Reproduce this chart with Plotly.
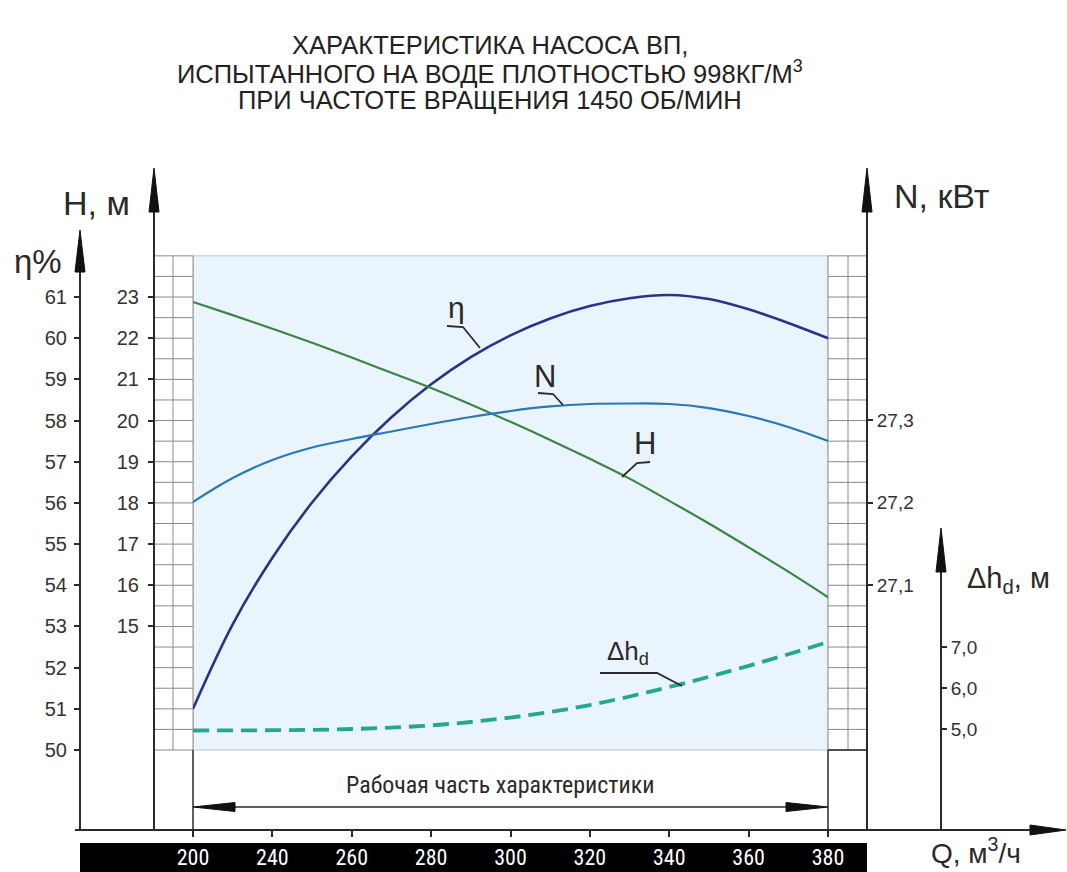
import plotly.graph_objects as go

# ---- data -------------------------------------------------------------
# flow points along the working part (labelled ticks plus midpoints between them)
Q_POINTS = ["200", "220", "240", "250", "260", "270", "280", "290", "300",
            "310", "320", "330", "340", "350", "360", "370", "380"]
Q_TICKS = ["200", "240", "260", "280", "300", "320", "340", "360", "380"]

ETA = [51.0, 53.05, 54.67, 56.01, 57.13, 58.08, 58.88, 59.54, 60.07,
       60.48, 60.78, 60.97, 61.05, 60.95, 60.70, 60.37, 60.0]              # η, %
HEAD = [22.88, 22.56, 22.23, 21.89, 21.53, 21.16, 20.79, 20.39, 19.97,
        19.53, 19.07, 18.59, 18.05, 17.50, 16.92, 16.33, 15.71]             # H, м
POWER = [27.2006, 27.2297, 27.2515, 27.2667, 27.2770, 27.2861, 27.2952, 27.3036,
         27.3109, 27.3164, 27.3194, 27.3200, 27.3194, 27.3145, 27.3048, 27.2915,
         27.2745]                                                            # N, кВт
NPSH = [4.963, 4.966, 4.971, 4.980, 5.000, 5.034, 5.088, 5.171, 5.280,
        5.415, 5.585, 5.793, 6.024, 6.273, 6.541, 6.824, 7.122]             # Δh_d, м

ETA_TICKS = [50, 51, 52, 53, 54, 55, 56, 57, 58, 59, 60, 61]
H_TICKS = [15, 16, 17, 18, 19, 20, 21, 22, 23]
H_MINOR_TICKS = [12, 13, 14]
N_TICKS = [27.1, 27.2, 27.3]
N_TICKTEXT = ["27,1", "27,2", "27,3"]
DH_TICKS = [5, 6, 7]
DH_TICKTEXT = ["5,0", "6,0", "7,0"]

TITLE_LINES = ["ХАРАКТЕРИСТИКА НАСОСА ВП,",
               "ИСПЫТАННОГО НА ВОДЕ ПЛОТНОСТЬЮ 998КГ/М<sup>3</sup>",
               "ПРИ ЧАСТОТЕ ВРАЩЕНИЯ 1450 ОБ/МИН"]

W, H = 1067, 872
SANS = "Liberation Sans, Arial, Helvetica, sans-serif"
NARROW = "Liberation Sans Narrow, Arial Narrow, Roboto Condensed, Liberation Sans, sans-serif"
DARK = "#2a2a2a"


def fx(p):
    return p / W


def fy(p):
    return 1 - p / H


# common vertical domain for all value axes (baseline to top arrow)
DOMAIN = [fy(830), fy(170)]
PX_PER_ETA = 41.18
ETA_RANGE = [50 - 80 / PX_PER_ETA, 50 + 580 / PX_PER_ETA]
H_RANGE = [ETA_RANGE[0] - 38, ETA_RANGE[1] - 38]
N_RANGE = [27.3 + (420 - 830) / 825, 27.3 + (420 - 170) / 825]
DH_RANGE = [5 + (729 - 830) / 41, 5 + (729 - 170) / 41]

fig = go.Figure()

fig.add_trace(go.Scatter(x=Q_POINTS, y=ETA, mode="lines", yaxis="y",
                         line=dict(color="#2b3388", width=2.6, shape="spline")))
fig.add_trace(go.Scatter(x=Q_POINTS, y=POWER, mode="lines", yaxis="y3",
                         line=dict(color="#2b78b4", width=2.2, shape="spline")))
fig.add_trace(go.Scatter(x=Q_POINTS, y=HEAD, mode="lines", yaxis="y2",
                         line=dict(color="#3b8544", width=2.2, shape="spline")))
fig.add_trace(go.Scatter(x=Q_POINTS, y=NPSH, mode="lines", yaxis="y4",
                         line=dict(color="#25a693", width=3.8, shape="spline",
                                   dash="16px,8px")))

shapes = []

# shaded working field
shapes.append(dict(type="rect", xref="paper", yref="y", x0=fx(193), x1=fx(828),
                   y0=50, y1=62, fillcolor="#eaf4fd",
                   line=dict(color="#bfc6cc", width=1), layer="below"))

# grid strips on both sides
for (xa, xb, xm) in [(154, 193, 173), (828, 867, 848)]:
    shapes.append(dict(type="rect", xref="paper", yref="y", x0=fx(xa), x1=fx(xb),
                       y0=50, y1=62, fillcolor="white",
                       line=dict(color="#8a8a8a", width=1), layer="below"))
    shapes.append(dict(type="line", xref="paper", yref="y", x0=fx(xm), x1=fx(xm),
                       y0=50, y1=62, line=dict(color="#8a8a8a", width=1)))
    for k in range(1, 24):
        yv = 50 + k * 0.5
        shapes.append(dict(type="line", xref="paper", yref="y", x0=fx(xa), x1=fx(xb),
                           y0=yv, y1=yv, line=dict(color="#8a8a8a", width=1)))

# box under the right strip
shapes.append(dict(type="line", xref="paper", yref="paper", x0=fx(828), x1=fx(867),
                   y0=fy(750), y1=fy(750), line=dict(color=DARK, width=1.5)))

# verticals bounding the working part
for xv in (193, 828):
    shapes.append(dict(type="line", xref="paper", yref="paper", x0=fx(xv), x1=fx(xv),
                       y0=fy(750), y1=fy(837), line=dict(color=DARK, width=1.5)))

# black band under the flow axis
shapes.append(dict(type="rect", xref="paper", yref="paper", x0=fx(80), x1=fx(867),
                   y0=fy(872), y1=fy(843), fillcolor="#000000", line=dict(width=0),
                   layer="below"))

# axis lines
axis_lines = [(80, 830, 262), (154, 830, 200), (867, 830, 200), (941, 830, 560)]
for xv, yb, yt in axis_lines:
    shapes.append(dict(type="line", xref="paper", yref="paper", x0=fx(xv), x1=fx(xv),
                       y0=fy(yb), y1=fy(yt), line=dict(color=DARK, width=2)))
# baseline
shapes.append(dict(type="line", xref="paper", yref="paper", x0=fx(75), x1=fx(1040),
                   y0=fy(830), y1=fy(830), line=dict(color=DARK, width=2)))


def up_arrow(xc, tip, base, hw=5):
    return dict(type="path", xref="paper", yref="paper",
                path=f"M {fx(xc)},{fy(tip)} L {fx(xc - hw)},{fy(base)} L {fx(xc + hw)},{fy(base)} Z",
                fillcolor="#111111", line=dict(color="#111111", width=1))


def h_arrow(yc, tip, base, hh=4.5):
    return dict(type="path", xref="paper", yref="paper",
                path=f"M {fx(tip)},{fy(yc)} L {fx(base)},{fy(yc - hh)} L {fx(base)},{fy(yc + hh)} Z",
                fillcolor="#111111", line=dict(color="#111111", width=1))


shapes.append(up_arrow(80, 230, 272))
shapes.append(up_arrow(154, 168, 212))
shapes.append(up_arrow(867, 168, 212))
shapes.append(up_arrow(941, 528, 572))
shapes.append(h_arrow(830, 1066, 1030, 5))

# working-part dimension arrow
shapes.append(dict(type="line", xref="paper", yref="paper", x0=fx(200), x1=fx(820),
                   y0=fy(807), y1=fy(807), line=dict(color=DARK, width=1.5)))
shapes.append(h_arrow(807, 193, 235, 4.5))
shapes.append(h_arrow(807, 828, 786, 4.5))

# leader lines for curve labels
leaders = [
    [(447, 326), (463, 327), (480, 348)],
    [(538, 393), (553, 394), (563, 405)],
    [(650, 462), (637, 463), (622, 477)],
    [(600, 673), (657, 673), (682, 686)],
]
for pts in leaders:
    path = "M " + " L ".join(f"{fx(a)},{fy(b)}" for a, b in pts)
    shapes.append(dict(type="path", xref="paper", yref="paper", path=path,
                       line=dict(color=DARK, width=1.8)))

annotations = []


def label(text, x, y, size, color=DARK, xanchor="center", family=SANS):
    annotations.append(dict(text=text, x=fx(x), y=fy(y), xref="paper", yref="paper",
                            showarrow=False, xanchor=xanchor, yanchor="middle",
                            font=dict(size=size, color=color, family=family)))


for line_text, ly in zip(TITLE_LINES, (45, 72, 100)):
    label(line_text, 490, ly, 25.5, color="#222222")
label("H, м", 96, 203, 34)
label("η%", 38, 261, 33)
label("N, кВт", 941, 196, 34)
label("Δh<sub>d</sub>, м", 1008, 580, 29)
label("Q, м<sup>3</sup>/ч", 976, 851, 28)
label("η", 456, 307, 30)
label("N", 545, 376, 31)
label("H", 645, 443, 31)
label("Δh<sub>d</sub>", 628, 652, 26)
label("Рабочая часть характеристики", 500, 785, 24, family=NARROW)

tick_font = dict(size=20, color="#333333", family=SANS)
small_tick_font = dict(size=19, color="#333333", family=SANS)

common_y = dict(showgrid=False, zeroline=False, showline=False, automargin=False,
                tickwidth=1.5, tickcolor=DARK, anchor="free")

fig.update_layout(
    template="none",
    width=W, height=H,
    margin=dict(l=0, r=0, t=0, b=0, autoexpand=False),
    paper_bgcolor="white", plot_bgcolor="rgba(0,0,0,0)",
    showlegend=False,
    shapes=shapes,
    annotations=annotations,
    xaxis=dict(type="category", categoryorder="array", categoryarray=Q_POINTS,
               domain=[fx(193), fx(828)], range=[0, 16], showgrid=False, zeroline=False,
               showline=False, automargin=False, tickvals=Q_TICKS,
               ticks="outside", ticklen=6, tickwidth=1.5, tickcolor=DARK,
               tickfont=dict(size=22, color="white", family=NARROW), ticklabelstandoff=2),
    yaxis=dict(domain=DOMAIN, range=ETA_RANGE, position=fx(80), side="left",
               tickvals=ETA_TICKS, ticks="outside", ticklen=6, tickfont=tick_font,
               ticklabelstandoff=3, **common_y),
    yaxis2=dict(range=H_RANGE, overlaying="y", position=fx(154), side="left",
                tickvals=H_TICKS, ticks="outside", ticklen=6,
                tickfont=tick_font, ticklabelstandoff=5, **common_y),
    yaxis3=dict(range=N_RANGE, overlaying="y", position=fx(867), side="right",
                tickvals=N_TICKS, ticktext=N_TICKTEXT, ticks="outside", ticklen=5,
                tickfont=small_tick_font, **common_y),
    yaxis4=dict(range=DH_RANGE, overlaying="y", position=fx(941), side="right",
                tickvals=DH_TICKS, ticktext=DH_TICKTEXT, ticks="outside", ticklen=5,
                tickfont=small_tick_font, **common_y),
    # inner halves of the crossing ticks on the η and Δh axes
    yaxis5=dict(range=ETA_RANGE, overlaying="y", position=fx(80), side="left",
                tickvals=ETA_TICKS, ticks="inside", ticklen=6, showticklabels=False,
                **common_y),
    yaxis6=dict(range=DH_RANGE, overlaying="y", position=fx(941), side="right",
                tickvals=DH_TICKS, ticks="inside", ticklen=5, showticklabels=False,
                **common_y),
    # unlabelled lower ticks of the head axis
    yaxis7=dict(range=H_RANGE, overlaying="y", position=fx(154), side="left",
                tickvals=H_MINOR_TICKS, ticks="outside", ticklen=6,
                showticklabels=False, **common_y),
)

fig.write_html("out.html")
